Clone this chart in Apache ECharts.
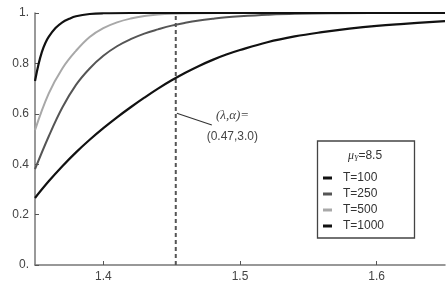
<!DOCTYPE html>
<html>
<head>
<meta charset="utf-8">
<script src="https://cdn.jsdelivr.net/npm/echarts@6/dist/echarts.min.js"></script>
<style>html,body{margin:0;padding:0;background:#fff}#c{width:448px;height:290px}</style>
</head>
<body>
<div id="c"></div>
<script>
// ---- data ----
const seriesNames = ['T=100', 'T=250', 'T=500', 'T=1000'];
const xT100 = [1.35, 1.3525, 1.355, 1.3575, 1.36, 1.365, 1.37, 1.375, 1.38, 1.39, 1.40, 1.42, 1.45, 1.5, 1.55, 1.6, 1.65];
const yT100 = [0.73, 0.795, 0.845, 0.88, 0.905, 0.94, 0.963, 0.977, 0.987, 0.996, 0.999, 1.0, 1.0, 1.0, 1.0, 1.0, 1.0];
const xT250 = [1.35, 1.36, 1.37, 1.38, 1.39, 1.40, 1.41, 1.42, 1.43, 1.44, 1.45, 1.46, 1.47, 1.48, 1.49, 1.50, 1.52, 1.54, 1.57, 1.62, 1.65];
const yT250 = [0.38, 0.51, 0.625, 0.715, 0.78, 0.83, 0.868, 0.896, 0.918, 0.935, 0.95, 0.961, 0.97, 0.977, 0.983, 0.987, 0.993, 0.997, 0.999, 1.0, 1.0];
const xT500 = [1.35, 1.36, 1.37, 1.38, 1.39, 1.40, 1.41, 1.42, 1.43, 1.44, 1.45, 1.47, 1.5, 1.65];
const yT500 = [0.535, 0.68, 0.78, 0.85, 0.905, 0.94, 0.963, 0.978, 0.988, 0.994, 0.997, 0.999, 1.0, 1.0];
const xT1000 = [1.35, 1.36, 1.37, 1.38, 1.39, 1.40, 1.41, 1.42, 1.43, 1.44, 1.45, 1.46, 1.47, 1.48, 1.49, 1.50, 1.52, 1.54, 1.56, 1.58, 1.60, 1.62, 1.65];
const yT1000 = [0.266, 0.332, 0.392, 0.447, 0.497, 0.543, 0.586, 0.626, 0.664, 0.700, 0.733, 0.763, 0.790, 0.814, 0.835, 0.853, 0.884, 0.907, 0.924, 0.938, 0.949, 0.957, 0.968];
const xTicks = [1.4, 1.5, 1.6];
const yTickLabels = ['0.', '0.2', '0.4', '0.6', '0.8', '1.'];
const dashedX = 1.453;
const annotation = ['(λ,α)=', '(0.47,3.0)'];
const legendTitle = '8.5';

const pair = (xs, ys) => xs.map((x, i) => [x, ys[i]]);
const colors = ['#111111', '#555555', '#a8a8a8', '#111111'];
const widths = [2.2, 2, 2, 2.2];
const xsAll = [xT100, xT250, xT500, xT1000];
const ysAll = [yT100, yT250, yT500, yT1000];
const zs = [6, 4, 5, 3];

const chart = echarts.init(document.getElementById('c'));
const font = 'Liberation Sans, Arial, sans-serif';

const series = seriesNames.map((n, i) => ({
  name: n, type: 'line', data: pair(xsAll[i], ysAll[i]), smooth: 0.4,
  showSymbol: false, clip: false, z: zs[i],
  lineStyle: { color: colors[i], width: widths[i] },
  itemStyle: { color: colors[i] }
}));
series.push({
  name: 'dash', type: 'line', data: [[dashedX, 0], [dashedX, 1]], showSymbol: false, clip: false, z: 2,
  lineStyle: { color: '#555', width: 2, type: [4, 3] }, silent: true
});

chart.setOption({
  animation: false,
  backgroundColor: '#fff',
  grid: { left: 35, right: 3, top: 13, bottom: 25, containLabel: false, outerBoundsMode: 'none' },
  xAxis: {
    type: 'value', min: 1.35, max: 1.65,
    axisLine: { show: true, lineStyle: { color: '#777', width: 1.5 } },
    axisTick: { show: true, inside: true, length: 4, customValues: xTicks, lineStyle: { color: '#555', width: 1 } },
    axisLabel: { customValues: xTicks, color: '#444', fontSize: 12, fontFamily: font, margin: 6, formatter: v => v.toFixed(1) },
    splitLine: { show: false }
  },
  yAxis: {
    type: 'value', min: 0, max: 1, interval: 0.2,
    axisLine: { show: true, lineStyle: { color: '#777', width: 1.5 } },
    axisTick: { show: true, inside: true, length: 4, lineStyle: { color: '#555', width: 1 } },
    axisLabel: { color: '#444', fontSize: 12, fontFamily: font, margin: 6,
      formatter: v => yTickLabels[Math.round(v * 5)] },
    splitLine: { show: false }
  },
  legend: {
    data: seriesNames, orient: 'vertical', left: 318, top: 167,
    icon: 'rect', itemWidth: 9, itemHeight: 3, itemGap: 4,
    textStyle: { color: '#333', fontSize: 12, fontFamily: font, padding: [0, 0, 0, 6] },
    selectedMode: false
  },
  series: series
});

const p = (x, y) => chart.convertToPixel({ gridIndex: 0 }, [x, y]);
const a1 = p(1.4538, 0.602), a2 = p(1.4794, 0.5556);
const t1 = p(1.4945, 0.591), t2 = p(1.4944, 0.51);
chart.setOption({
  graphic: [
    { type: 'line', shape: { x1: a1[0], y1: a1[1], x2: a2[0], y2: a2[1] }, style: { stroke: '#333', lineWidth: 1.2 }, z: 10 },
    { type: 'text', x: t1[0], y: t1[1], style: { text: annotation[0], font: 'italic 13px "Liberation Serif", serif', fill: '#444', align: 'center', verticalAlign: 'middle' }, z: 10 },
    { type: 'text', x: t2[0], y: t2[1], style: { text: annotation[1], font: '12px "Liberation Sans", Arial, sans-serif', fill: '#444', align: 'center', verticalAlign: 'middle' }, z: 10 },
    { type: 'rect', shape: { x: 317.5, y: 141, width: 97, height: 97 }, style: { fill: '#fff', stroke: '#444', lineWidth: 1.3 }, z: 0, zlevel: 0 },
    { type: 'text', x: 365, y: 156, style: {
        text: '{m|μ}{s|Y}{n|=' + legendTitle + '}',
        align: 'center', verticalAlign: 'middle',
        rich: {
          m: { font: 'italic 12px "Liberation Serif", serif', fill: '#333' },
          s: { font: 'italic 8px "Liberation Serif", serif', fill: '#333', padding: [5, 0, 0, 0] },
          n: { font: '12px "Liberation Sans", Arial, sans-serif', fill: '#333' }
        }
      }, z: 10 }
  ]
});
</script>
</body>
</html>
